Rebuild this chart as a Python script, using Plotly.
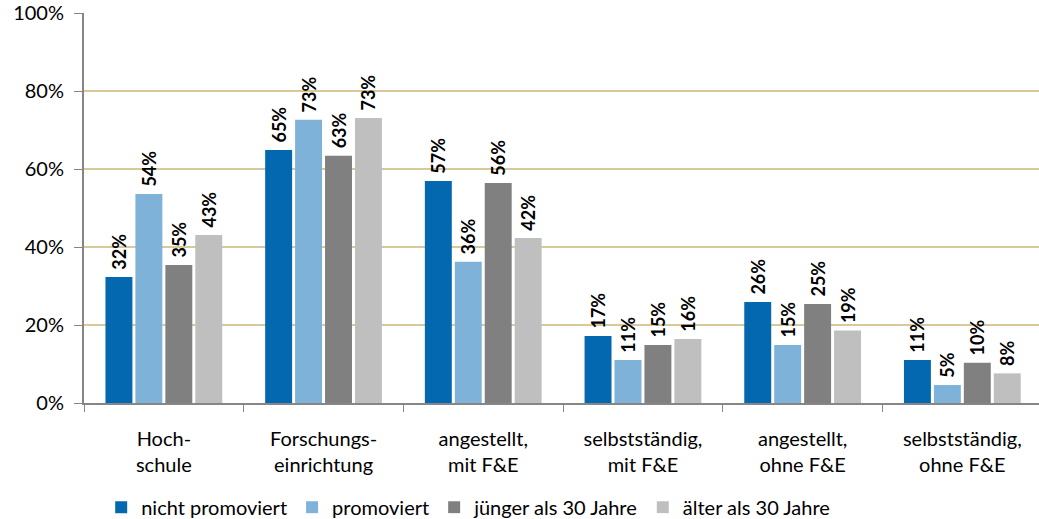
import plotly.graph_objects as go

categories = ["Hoch-<br>schule", "Forschungs-<br>einrichtung", "angestellt,<br>mit F&E",
              "selbstständig,<br>mit F&E", "angestellt,<br>ohne F&E", "selbstständig,<br>ohne F&E"]
series_names = ["nicht promoviert", "promoviert", "jünger als 30 Jahre", "älter als 30 Jahre"]
nicht_promoviert = [32.3, 64.9, 56.9, 17.2, 25.9, 11.0]
promoviert = [53.6, 72.6, 36.2, 11.0, 14.9, 4.6]
juenger_30 = [35.4, 63.4, 56.4, 14.9, 25.4, 10.3]
aelter_30 = [43.1, 73.1, 42.3, 16.4, 18.6, 7.6]
y_ticks = [0, 20, 40, 60, 80, 100]

colors = ["#0468B1", "#7FB2D8", "#808080", "#BFBFBF"]
FONT = "Lato, Noto Sans, sans-serif"

fig = go.Figure()
for name, vals, col in zip(series_names, [nicht_promoviert, promoviert, juenger_30, aelter_30], colors):
    fig.add_trace(go.Bar(
        x=categories, y=vals, name=name,
        marker=dict(color=col, line=dict(width=0)),
        texttemplate="\u00a0%{y:.0f}%", textposition="outside", textangle=-90,
        constraintext="none", cliponaxis=False,
        textfont=dict(family=FONT, size=18, color="#000000", weight="bold"),
    ))

fig.update_layout(
    width=1039, height=519,
    margin=dict(l=84, r=0, t=13, b=116, autoexpand=False),
    paper_bgcolor="white", plot_bgcolor="white",
    barmode="group", bargap=0.25, bargroupgap=0.1,
    font=dict(family=FONT, size=20, color="#000000"),
    showlegend=True,
    legend=dict(orientation="h", x=0.018, xanchor="left", y=-0.267, yanchor="middle",
                font=dict(family=FONT, size=20), itemwidth=30, tracegroupgap=0),
)
fig.update_xaxes(
    range=[-0.5, 5.48], tickson="boundaries", ticks="outside", ticklen=7,
    tickcolor="#868686", showline=True, linecolor="#868686", linewidth=2,
    showgrid=False, tickfont=dict(family=FONT, size=20), fixedrange=True,
    automargin=False, ticklabelstandoff=17,
)
fig.update_yaxes(
    range=[0, 100], tickvals=y_ticks, ticktext=[f"{v}%" for v in y_ticks],
    ticks="outside", ticklen=8, tickcolor="#868686",
    showline=True, linecolor="#868686", linewidth=2,
    showgrid=True, gridcolor="#D8C99B", gridwidth=2, zeroline=False,
    tickfont=dict(family=FONT, size=20), fixedrange=True, automargin=False,
    ticklabelstandoff=6,
)

fig.write_html("out.html", config={"displayModeBar": False, "staticPlot": True},
               post_script="document.body.style.margin='0';document.body.style.overflow='hidden';")
